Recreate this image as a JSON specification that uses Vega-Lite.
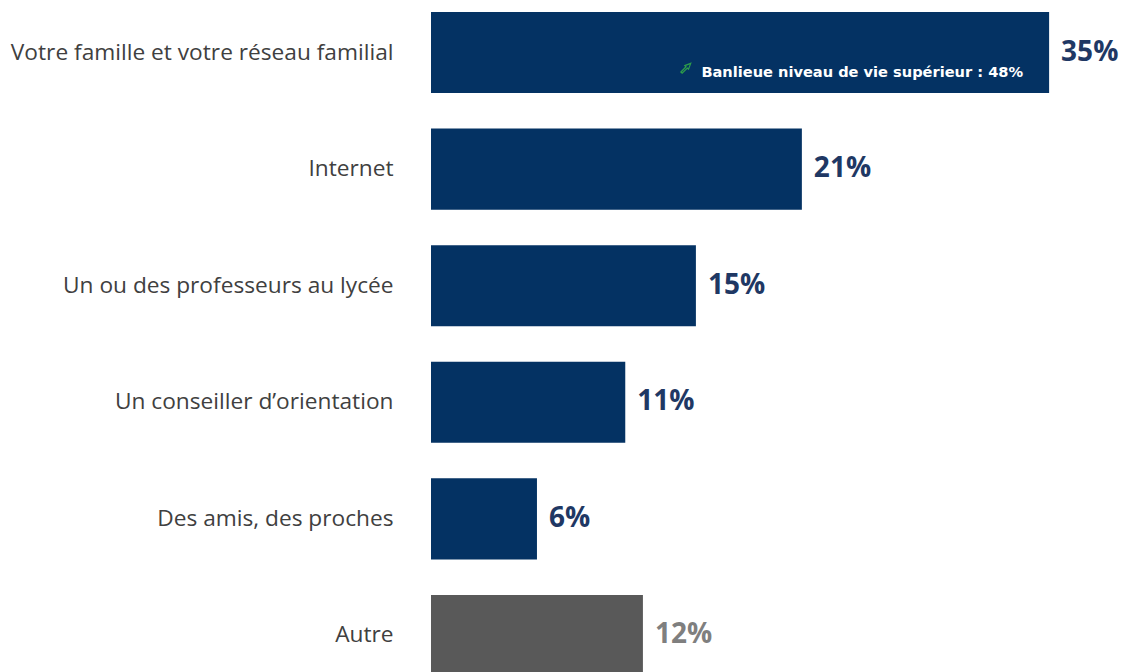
{
  "$schema": "https://vega.github.io/schema/vega-lite/v6.json",
  "width": 702,
  "height": 672,
  "autosize": {"type": "none"},
  "padding": {"left": 431, "top": 0, "right": 0, "bottom": 0},
  "background": "white",
  "data": {
    "values": [
      {"cat": "Votre famille et votre réseau familial", "value": 35, "label": "35%", "grp": "main", "note": "Banlieue niveau de vie supérieur : 48%", "hasNote": 1},
      {"cat": "Internet", "value": 21, "label": "21%", "grp": "main", "note": "", "hasNote": 0},
      {"cat": "Un ou des professeurs au lycée", "value": 15, "label": "15%", "grp": "main", "note": "", "hasNote": 0},
      {"cat": "Un conseiller d’orientation", "value": 11, "label": "11%", "grp": "main", "note": "", "hasNote": 0},
      {"cat": "Des amis, des proches", "value": 6, "label": "6%", "grp": "main", "note": "", "hasNote": 0},
      {"cat": "Autre", "value": 12, "label": "12%", "grp": "other", "note": "", "hasNote": 0}
    ]
  },
  "encoding": {
    "y": {
      "field": "cat", "type": "nominal", "sort": null,
      "scale": {"range": [12, 676], "paddingInner": 0.305, "paddingOuter": 0},
      "axis": {"title": null, "ticks": false, "domain": false, "labelPadding": 38, "labelFont": "Open Sans", "labelFontSize": 22.7, "labelColor": "#404040", "labelLimit": 500}
    }
  },
  "layer": [
    {
      "mark": {"type": "bar"},
      "encoding": {
        "x": {"field": "value", "type": "quantitative", "scale": {"domain": [0, 39.75], "nice": false}, "axis": null},
        "color": {"field": "grp", "type": "nominal", "scale": {"domain": ["main", "other"], "range": ["#043263", "#595959"]}, "legend": null}
      }
    },
    {
      "mark": {"type": "text", "align": "left", "dx": 12, "font": "Open Sans", "fontSize": 28, "fontWeight": "bold"},
      "encoding": {
        "x": {"field": "value", "type": "quantitative"},
        "text": {"field": "label"},
        "color": {"field": "grp", "type": "nominal", "scale": {"domain": ["main", "other"], "range": ["#1f3864", "#7f7f7f"]}, "legend": null}
      }
    },
    {
      "mark": {"type": "text", "align": "right", "dx": -26, "dy": 20, "font": "DejaVu Sans", "fontSize": 14.6, "fontWeight": "bold", "color": "white"},
      "encoding": {
        "x": {"field": "value", "type": "quantitative"},
        "text": {"field": "note"}
      }
    },
    {
      "transform": [{"filter": "datum.hasNote == 1"}],
      "mark": {"type": "point", "shape": "arrow", "angle": 45, "size": 170, "filled": false, "stroke": "#2e9e4a", "strokeWidth": 1.2, "opacity": 1},
      "encoding": {
        "x": {"field": "value", "type": "quantitative"},
        "xOffset": {"value": -363},
        "yOffset": {"value": 56}
      }
    }
  ],
  "resolve": {"scale": {"color": "independent"}},
  "config": {"view": {"stroke": null}}
}
